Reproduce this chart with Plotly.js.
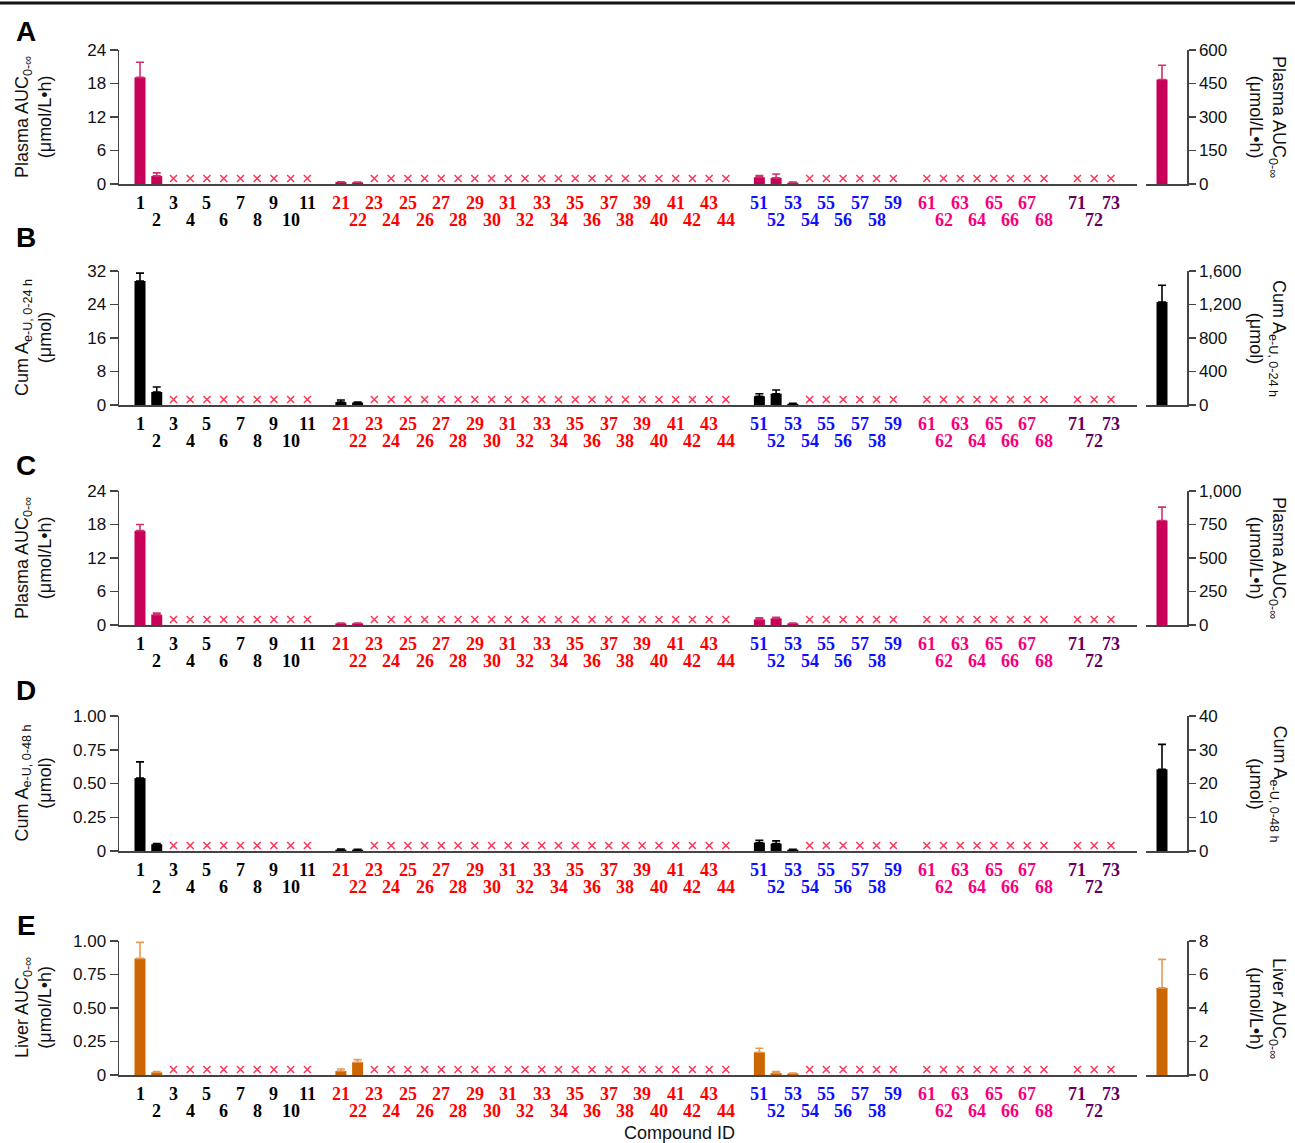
<!DOCTYPE html>
<html>
<head>
<meta charset="utf-8">
<script src="https://cdn.plot.ly/plotly-3.0.1.min.js"></script>
<style>html,body{margin:0;padding:0;background:#fff;}#chart{width:1295px;height:1143px;}</style>
</head>
<body>
<div id="chart"></div>
<script>
// ---------- data ----------
const group1 = [1, 2, 3, 4, 5, 6, 7, 8, 9, 10, 11];
const group2 = [21, 22, 23, 24, 25, 26, 27, 28, 29, 30, 31, 32, 33, 34, 35, 36, 37, 38, 39, 40, 41, 42, 43, 44];
const group3 = [51, 52, 53, 54, 55, 56, 57, 58, 59];
const group4 = [61, 62, 63, 64, 65, 66, 67, 68];
const group5 = [71, 72, 73];
const groupColors = ['#000000', '#ff0000', '#1010ff', '#f5007d', '#66005e'];
const refCompound = '81';
const refColor = '#6a9a00';

const detectedIds = [1, 2, 21, 22, 51, 52, 53];

const panelLetters = ['A', 'B', 'C', 'D', 'E'];
const leftTitles = [
  'Plasma AUC<sub>0-∞</sub><br>(μmol/L•h)',
  'Cum A<sub>e-U, 0-24 h</sub><br>(μmol)',
  'Plasma AUC<sub>0-∞</sub><br>(μmol/L•h)',
  'Cum A<sub>e-U, 0-48 h</sub><br>(μmol)',
  'Liver AUC<sub>0-∞</sub><br>(μmol/L•h)'
];
const rightTitles = leftTitles;

const plasmaAucA = [19.1, 1.45, 0.35, 0.3, 1.2, 1.1, 0.25];
const plasmaAucAErr = [2.7, 0.55, 0.05, 0.05, 0.3, 0.7, 0.1];
const plasmaAucA81 = [468];
const plasmaAucA81Err = [64];

const cumAe24 = [29.6, 3.1, 0.7, 0.6, 2.1, 2.7, 0.3];
const cumAe24Err = [1.9, 1.2, 0.5, 0.1, 0.6, 0.9, 0.1];
const cumAe24_81 = [1230];
const cumAe24_81Err = [200];

const plasmaAucC = [16.9, 1.85, 0.3, 0.3, 1.0, 1.2, 0.3];
const plasmaAucCErr = [1.1, 0.3, 0.05, 0.05, 0.3, 0.2, 0.05];
const plasmaAucC81 = [780];
const plasmaAucC81Err = [100];

const cumAe48 = [0.54, 0.05, 0.01, 0.01, 0.062, 0.055, 0.01];
const cumAe48Err = [0.12, 0.005, 0.005, 0.003, 0.018, 0.02, 0.002];
const cumAe48_81 = [24.2];
const cumAe48_81Err = [7.4];

const liverAuc = [0.87, 0.02, 0.03, 0.095, 0.17, 0.015, 0.012];
const liverAucErr = [0.12, 0.005, 0.015, 0.02, 0.03, 0.01, 0.003];
const liverAuc81 = [5.2];
const liverAuc81Err = [1.7];

const leftRanges = [24, 32, 24, 1, 1];
const leftDticks = [6, 8, 6, 0.25, 0.25];
const rightRanges = [600, 1600, 1000, 40, 8];
const rightDticks = [150, 400, 250, 10, 2];
const fractionTickText = ['0', '0.25', '0.50', '0.75', '1.00'];

const panelValues = [plasmaAucA, cumAe24, plasmaAucC, cumAe48, liverAuc];
const panelErrors = [plasmaAucAErr, cumAe24Err, plasmaAucCErr, cumAe48Err, liverAucErr];
const panel81 = [plasmaAucA81, cumAe24_81, plasmaAucC81, cumAe48_81, liverAuc81];
const panel81Err = [plasmaAucA81Err, cumAe24_81Err, plasmaAucC81Err, cumAe48_81Err, liverAuc81Err];
const barColors = ['#c8005a', '#000000', '#c8005a', '#000000', '#cc6600'];
const errColors = ['#d2306e', '#000000', '#d2306e', '#000000', '#e89a55'];
const ndColor = '#ff3355';

// ---------- layout geometry (pixels) ----------
const W = 1295, H = 1143;
const fx = v => v / W;
const fy = v => 1 - v / H;
const panelTop = [50, 271, 491, 716, 941];
const panelBottom = [184, 405, 625, 851, 1075];
const letterY = [32, 238, 465, 690, 925];
const mainLeft = 119, mainRight = 1137, refLeft = 1146, refRight = 1187;
const slotPx = 16.74, firstSlotPx = 140, barPx = 11, refBarPx = 1162;

// slots for compounds (one empty slot between groups)
const groups = [group1, group2, group3, group4, group5];
const slotOf = {};
const colorOf = {};
let s = 1;
groups.forEach((g, gi) => {
  g.forEach(id => { slotOf[id] = s; colorOf[id] = groupColors[gi]; s++; });
  s++;
});
const allIds = [].concat(...groups);
const ndIds = allIds.filter(id => detectedIds.indexOf(id) < 0);

const mainRange = [1 - (firstSlotPx - mainLeft) / slotPx, 1 + (mainRight - firstSlotPx) / slotPx];
const barWidth = barPx / slotPx;
const refRange = [-(refBarPx - refLeft) / slotPx, (refRight - refBarPx) / slotPx];

const data = [];
const layout = {
  width: W, height: H,
  margin: {l: 0, r: 0, t: 0, b: 0},
  paper_bgcolor: '#ffffff', plot_bgcolor: 'rgba(0,0,0,0)',
  showlegend: false,
  font: {family: 'Liberation Sans, Arial, sans-serif', size: 17, color: '#111'},
  annotations: [],
  shapes: [{type: 'line', xref: 'paper', yref: 'paper', x0: 0, x1: 1, y0: fy(3), y1: fy(3), line: {color: '#111', width: 3}}]
};

const axisColor = '#444';
const labelFont = {family: 'Liberation Serif, Times New Roman, serif', size: 18, weight: 'bold'};

for (let p = 0; p < 5; p++) {
  const mi = 2 * p + 1, ri = 2 * p + 2;
  const mx = 'x' + mi, my = 'y' + mi, rx = 'x' + ri, ry = 'y' + ri;
  const yDom = [fy(panelBottom[p]), fy(panelTop[p])];
  const isFrac = leftRanges[p] === 1;

  layout['xaxis' + mi] = {domain: [fx(mainLeft), fx(mainRight)], anchor: my, range: mainRange,
    showline: true, linecolor: axisColor, linewidth: 1.5, ticks: '', showticklabels: false,
    showgrid: false, zeroline: false, fixedrange: true};
  layout['yaxis' + mi] = {domain: yDom, anchor: mx, range: [0, leftRanges[p]],
    showline: true, linecolor: axisColor, linewidth: 1.5, ticks: 'outside', ticklen: 8,
    tickwidth: 1.5, tickcolor: axisColor, showgrid: false, zeroline: false,
    tickfont: {size: 17, color: '#111'}, fixedrange: true};
  if (isFrac) {
    layout['yaxis' + mi].tickmode = 'array';
    layout['yaxis' + mi].tickvals = fractionTickText.map(Number);
    layout['yaxis' + mi].ticktext = fractionTickText;
  } else {
    layout['yaxis' + mi].dtick = leftDticks[p];
    layout['yaxis' + mi].tick0 = 0;
  }
  layout['xaxis' + ri] = {domain: [fx(refLeft), fx(refRight)], anchor: ry, type: 'category',
    range: refRange, showline: true, linecolor: axisColor, linewidth: 1.5, ticks: '',
    showticklabels: false, showgrid: false, zeroline: false, fixedrange: true};
  layout['yaxis' + ri] = {domain: yDom, anchor: rx, side: 'right', range: [0, rightRanges[p]],
    dtick: rightDticks[p], tick0: 0, tickformat: ',d', showline: true, linecolor: axisColor,
    linewidth: 1.5, ticks: 'outside', ticklen: 7, tickwidth: 1.5, tickcolor: axisColor,
    showgrid: false, zeroline: false, tickfont: {size: 17, color: '#111'}, fixedrange: true};

  // detected bars
  data.push({type: 'bar', xaxis: mx, yaxis: my,
    x: detectedIds.map(id => slotOf[id]), y: panelValues[p], width: barWidth,
    marker: {color: barColors[p], line: {width: 0}},
    error_y: {type: 'data', symmetric: false, array: panelErrors[p],
      arrayminus: panelErrors[p].map(() => 0), color: errColors[p], thickness: 1.6, width: 4}});
  // not detected markers
  const ndY = leftRanges[p] * 5.5 / (panelBottom[p] - panelTop[p]);
  data.push({type: 'scatter', mode: 'markers', xaxis: mx, yaxis: my,
    x: ndIds.map(id => slotOf[id]), y: ndIds.map(() => ndY),
    marker: {symbol: 'x-thin', size: 7, color: ndColor, line: {color: ndColor, width: 1.5}}});
  // compound 81 bar
  data.push({type: 'bar', xaxis: rx, yaxis: ry, x: [refCompound], y: panel81[p], width: barWidth,
    marker: {color: barColors[p], line: {width: 0}},
    error_y: {type: 'data', symmetric: false, array: panel81Err[p], arrayminus: [0],
      color: errColors[p], thickness: 1.6, width: 4}});

  // compound labels
  allIds.forEach(id => {
    const row = id % 2 === 1 ? 19 : 36;
    layout.annotations.push({xref: mx, yref: 'paper', x: slotOf[id], y: fy(panelBottom[p] + row),
      text: String(id), showarrow: false, xanchor: 'center', yanchor: 'middle',
      font: Object.assign({}, labelFont, {color: colorOf[id]})});
  });
  layout.annotations.push({xref: rx, yref: 'paper', x: refCompound, y: fy(panelBottom[p] + 19),
    text: refCompound, showarrow: false, xanchor: 'center', yanchor: 'middle',
    font: Object.assign({}, labelFont, {color: refColor})});

  const midY = fy((panelTop[p] + panelBottom[p]) / 2);
  layout.annotations.push({xref: 'paper', yref: 'paper', x: fx(33), y: midY, text: leftTitles[p],
    textangle: -90, showarrow: false, xanchor: 'center', yanchor: 'middle',
    font: {size: 18, color: '#111'}});
  layout.annotations.push({xref: 'paper', yref: 'paper', x: fx(1268), y: midY, text: rightTitles[p],
    textangle: 90, showarrow: false, xanchor: 'center', yanchor: 'middle',
    font: {size: 18, color: '#111'}});
  layout.annotations.push({xref: 'paper', yref: 'paper', x: fx(26), y: fy(letterY[p]),
    text: panelLetters[p], showarrow: false, xanchor: 'center', yanchor: 'middle',
    font: {size: 28, weight: 'bold', color: '#000'}});
}
layout.annotations.push({xref: 'paper', yref: 'paper', x: fx(680), y: fy(1133), text: 'Compound ID',
  showarrow: false, xanchor: 'center', yanchor: 'middle', font: {size: 18, color: '#111'}});

Plotly.newPlot('chart', data, layout, {displayModeBar: false, staticPlot: true});
</script>
</body>
</html>
